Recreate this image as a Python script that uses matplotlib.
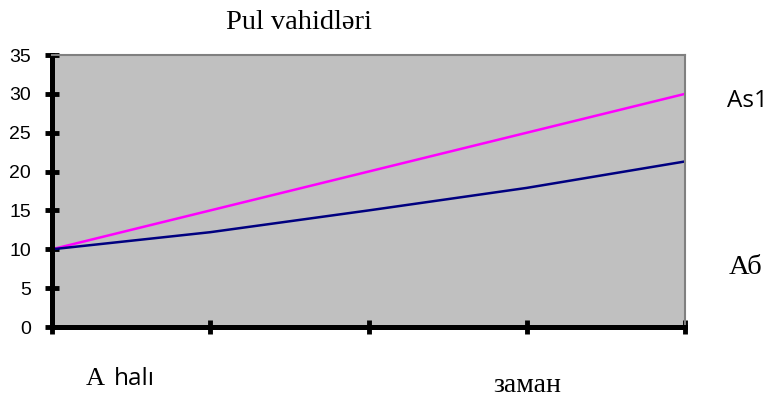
import matplotlib
matplotlib.use("Agg")
import matplotlib.pyplot as plt

x_positions = [0, 1, 2, 3, 4]
as1_values = [10, 15, 20, 25, 30]
ab_values = [10, 12.2, 15, 17.9, 21.3]
y_ticks = [0, 5, 10, 15, 20, 25, 30, 35]

fig = plt.figure(figsize=(7.7, 4.0), dpi=100)
ax = fig.add_axes([52/770, 73/400, (685-52)/770, (327-55)/400])
ax.set_facecolor("#C0C0C0")

ax.plot(x_positions, as1_values, color="#FF00FF", lw=1.8, solid_capstyle="butt")
ax.plot(x_positions, ab_values, color="#000080", lw=1.8, solid_capstyle="butt")

ax.set_xlim(0, 4)
ax.set_ylim(0, 35)
ax.set_yticks(y_ticks)
ax.set_xticks(x_positions)
ax.set_xticklabels([])
ax.set_yticklabels([str(v) for v in y_ticks], family="Liberation Sans", fontsize=14)

for s in ["left", "bottom"]:
    ax.spines[s].set_color("black")
    ax.spines[s].set_linewidth(3.6)
for s in ["top", "right"]:
    ax.spines[s].set_color("#808080")
    ax.spines[s].set_linewidth(1.5)

ax.tick_params(axis="both", direction="inout", length=10, width=3.5, color="black")
ax.tick_params(axis="y", pad=10)


def fy(px):
    return 1 - px / 400


fig.text(299/770, fy(29), "Pul vahidləri", family="Liberation Serif", fontsize=20.5,
         ha="center", va="baseline")
fig.text(727/770, fy(107), "As1", family="Open Sans", fontsize=17.5,
         ha="left", va="baseline")
fig.text(729/770, fy(274), "Аб", family="Liberation Serif", fontsize=20.5,
         ha="left", va="baseline")
fig.text(86/770, fy(385), "A", family="Liberation Serif", fontsize=19,
         ha="left", va="baseline")
fig.text(114/770, fy(385), "halı", family="Open Sans", fontsize=17.5,
         ha="left", va="baseline")
fig.text(527/770, fy(392), "заман", family="Liberation Serif", fontsize=20,
         ha="center", va="baseline")

fig.savefig("out.png", dpi=100)
